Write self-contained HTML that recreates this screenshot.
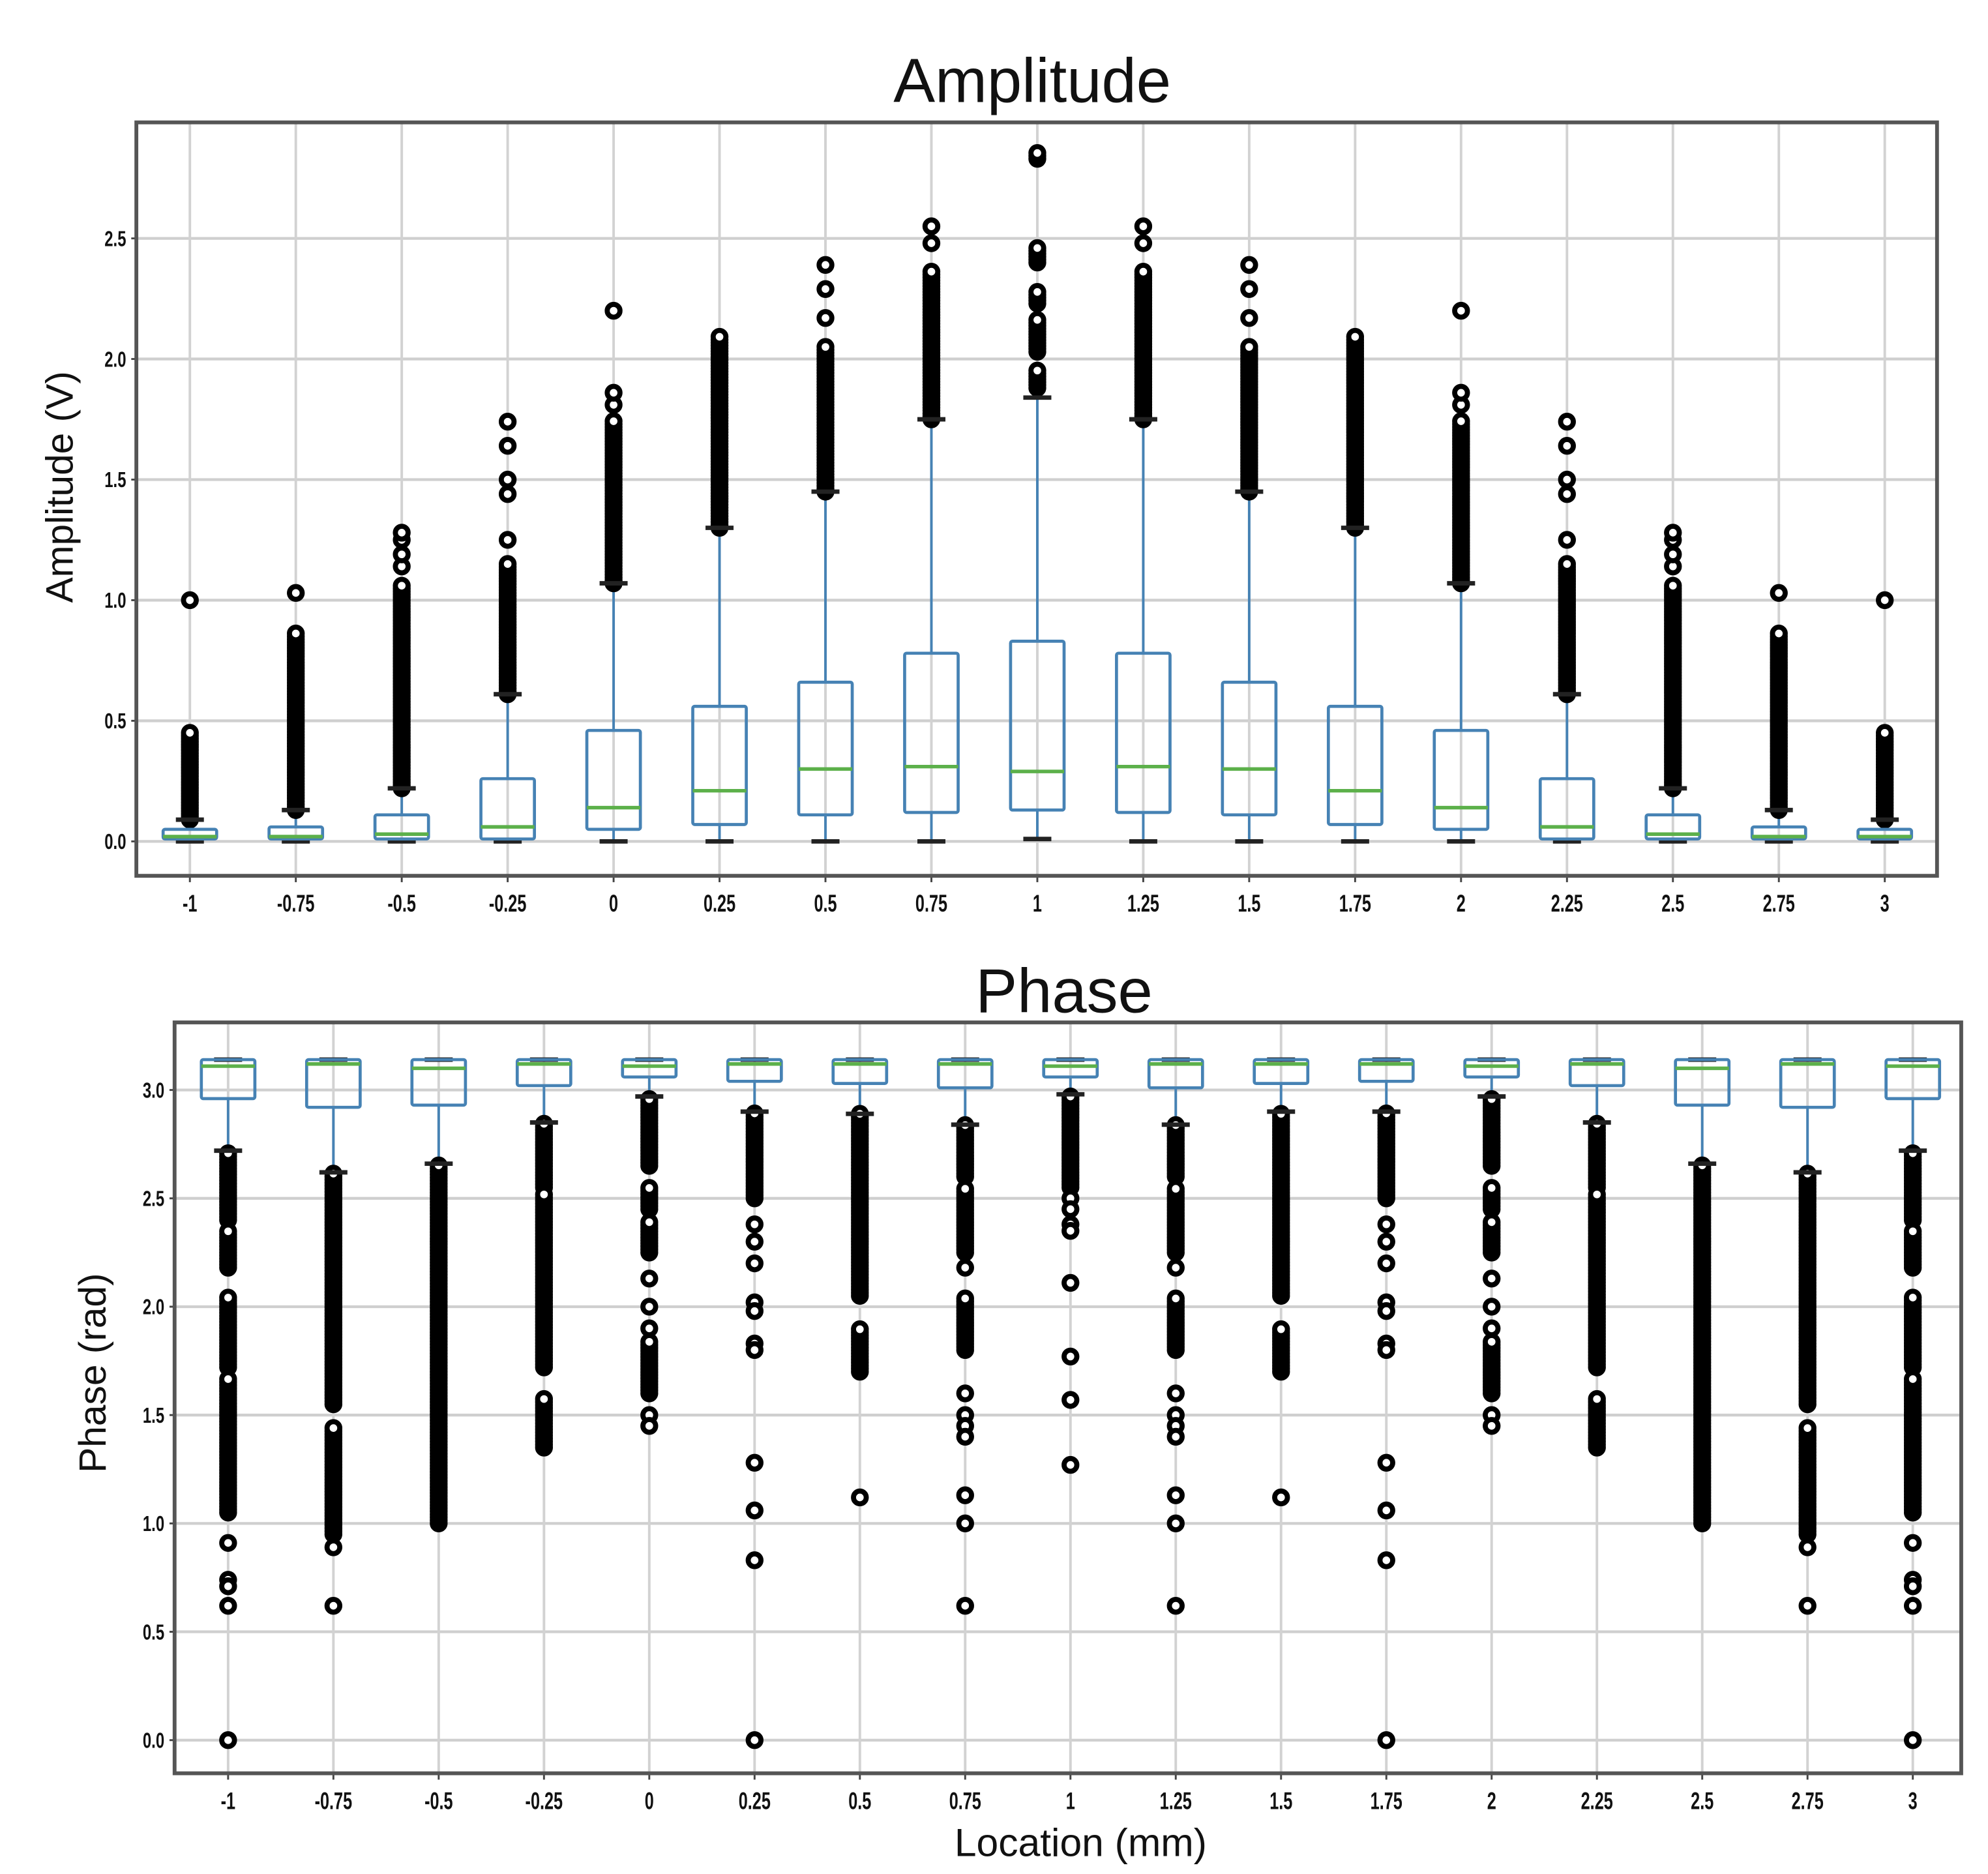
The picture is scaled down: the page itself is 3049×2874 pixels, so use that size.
<!DOCTYPE html>
<html><head><meta charset="utf-8">
<style>
html,body{margin:0;padding:0;background:#fff;}
svg{display:block;}
text{font-family:"Liberation Sans",sans-serif;fill:#111;}
</style></head>
<body>
<svg id="fig" xmlns="http://www.w3.org/2000/svg" width="3049" height="2874" viewBox="0 0 1560 1470" preserveAspectRatio="none">
<rect x="0" y="0" width="1560" height="1470" fill="#fff"/>
<g id="amp"></g>
<g id="pha"></g>
</svg>
<script>
// ---- shared categories ----
const locations = ["-1","-0.75","-0.5","-0.25","0","0.25","0.5","0.75","1","1.25","1.5","1.75","2","2.25","2.5","2.75","3"];
// ---- Amplitude data ----
const ampQ1  = [0.01,0.01,0.01,0.01,0.05,0.07,0.11,0.12,0.13,0.12,0.11,0.07,0.05,0.01,0.01,0.01,0.01];
const ampMed = [0.02,0.02,0.03,0.06,0.14,0.21,0.30,0.31,0.29,0.31,0.30,0.21,0.14,0.06,0.03,0.02,0.02];
const ampQ3  = [0.05,0.06,0.11,0.26,0.46,0.56,0.66,0.78,0.83,0.78,0.66,0.56,0.46,0.26,0.11,0.06,0.05];
const ampWLo = [0,0,0,0,0,0,0,0,0.01,0,0,0,0,0,0,0,0];
const ampWHi = [0.09,0.13,0.22,0.61,1.07,1.30,1.45,1.75,1.84,1.75,1.45,1.30,1.07,0.61,0.22,0.13,0.09];
const ampDense = [
 [[0.09,0.46]],[[0.13,0.87]],[[0.22,1.07]],[[0.61,1.15]],[[1.07,1.75]],[[1.30,2.10]],[[1.45,2.06]],[[1.75,2.37]],
 [[1.88,1.96],[2.03,2.17],[2.23,2.28],[2.40,2.47],[2.83,2.86]],
 [[1.75,2.37]],[[1.45,2.06]],[[1.30,2.10]],[[1.07,1.75]],[[0.61,1.15]],[[0.22,1.07]],[[0.13,0.87]],[[0.09,0.46]]];
const ampSingles = [[1.0],[1.03],[1.14,1.19,1.25,1.28],[1.25,1.44,1.50,1.64,1.74],[1.81,1.86,2.20],[],[2.17,2.29,2.39],[2.48,2.55],
 [],[2.48,2.55],[2.17,2.29,2.39],[],[1.81,1.86,2.20],[1.25,1.44,1.50,1.64,1.74],[1.14,1.19,1.25,1.28],[1.03],[1.0]];
const ampTicks = [0,0.5,1.0,1.5,2.0,2.5];
const ampTickLabels = ["0.0","0.5","1.0","1.5","2.0","2.5"];
// ---- Phase data ----
const phQ1  = [2.96,2.92,2.93,3.02,3.06,3.04,3.03,3.01,3.06,3.01,3.03,3.04,3.06,3.02,2.93,2.92,2.96];
const phMed = [3.11,3.12,3.10,3.12,3.11,3.12,3.12,3.12,3.11,3.12,3.12,3.12,3.11,3.12,3.10,3.12,3.11];
const phQ3  = [3.14,3.14,3.14,3.14,3.14,3.14,3.14,3.14,3.14,3.14,3.14,3.14,3.14,3.14,3.14,3.14,3.14];
const phWLo = [2.72,2.62,2.66,2.85,2.97,2.90,2.89,2.84,2.98,2.84,2.90,2.90,2.97,2.85,2.66,2.62,2.72];
const phWHi = [3.14,3.14,3.14,3.14,3.14,3.14,3.14,3.14,3.14,3.14,3.14,3.14,3.14,3.14,3.14,3.14,3.14];
const phDense = [
 [[2.40,2.72],[2.18,2.35],[1.72,2.05],[1.05,1.67]],
 [[1.55,2.62],[0.95,1.45]],
 [[1.00,2.66]],
 [[2.55,2.85],[1.72,2.52],[1.35,1.58]],
 [[2.65,2.97],[2.45,2.55],[2.25,2.40],[1.60,1.85]],
 [[2.50,2.90]],
 [[2.05,2.89],[1.70,1.90]],
 [[2.60,2.84],[2.25,2.55],[1.80,2.05]],
 [[2.55,2.98]],
 [[2.60,2.84],[2.25,2.55],[1.80,2.05]],
 [[2.05,2.90],[1.70,1.90]],
 [[2.50,2.90]],
 [[2.65,2.97],[2.45,2.55],[2.25,2.40],[1.60,1.85]],
 [[2.55,2.85],[1.72,2.52],[1.35,1.58]],
 [[1.00,2.66]],
 [[1.55,2.62],[0.95,1.45]],
 [[2.40,2.72],[2.18,2.35],[1.72,2.05],[1.05,1.67]]];
const phSingles = [
 [0.91,0.74,0.71,0.62,0.0],[0.89,0.62],[],[],[2.13,2.0,1.9,1.5,1.45],
 [2.38,2.30,2.2,2.02,1.98,1.83,1.80,1.28,1.06,0.83,0.0],[1.12],
 [2.18,1.60,1.50,1.45,1.40,1.13,1.0,0.62],[2.50,2.45,2.38,2.35,2.11,1.77,1.57,1.27],
 [2.18,1.60,1.50,1.45,1.40,1.13,1.0,0.62],[1.12],
 [2.38,2.30,2.2,2.02,1.98,1.83,1.80,1.28,1.06,0.83,0.0],[2.13,2.0,1.9,1.5,1.45],
 [],[],[0.89,0.62],[0.91,0.74,0.71,0.62,0.0]];
const phTicks = [0,0.5,1.0,1.5,2.0,2.5,3.0];
const phTickLabels = ["0.0","0.5","1.0","1.5","2.0","2.5","3.0"];

const NS="http://www.w3.org/2000/svg";
function mk(parent,tag,attrs,txt){const e=document.createElementNS(NS,tag);for(const k in attrs)e.setAttribute(k,attrs[k]);if(txt!==undefined)e.textContent=txt;parent.appendChild(e);return e;}

function drawChart(g,cfg){
  const xs=i=>cfg.x0+(cfg.x1-cfg.x0)*i/(locations.length-1);
  const ys=v=>cfg.y0-(cfg.y0-cfg.yTop)*v/cfg.vTop;
  cfg.ticks.forEach((t,i)=>{
    const l=mk(g,'line',{x1:cfg.L,x2:cfg.R,y1:ys(t),y2:ys(t),stroke:'#cfcfcf','stroke-width':2.2});
    
    
    const tk=mk(g,'line',{x1:cfg.L-4,x2:cfg.L,y1:ys(t),y2:ys(t),stroke:'#444','stroke-width':1.5});
    
    
    const tx=mk(g,'text',{x:cfg.L-8,y:ys(t)+6,'text-anchor':'end','font-size':17,'font-weight':'bold',fill:'#333',transform:`translate(${cfg.L-8},${ys(t)}) scale(0.72,1) translate(${-(cfg.L-8)},${-ys(t)})`},cfg.tickLabels[i]);
    
    
  });
  locations.forEach((c,i)=>{
    const l=mk(g,'line',{x1:xs(i),x2:xs(i),y1:cfg.T,y2:cfg.B,stroke:'#d2d2d2','stroke-width':2});
    
    
    const tk=mk(g,'line',{x1:xs(i),x2:xs(i),y1:cfg.B,y2:cfg.B+5,stroke:'#444','stroke-width':1.5});
    
    
    const tx=mk(g,'text',{x:xs(i),y:cfg.B+28,'text-anchor':'middle','font-size':19,'font-weight':'bold',fill:'#333',transform:`translate(${xs(i)},0) scale(0.68,1) translate(${-xs(i)},0)`},c);
    
    
  });
  const hw=21;
  locations.forEach((c,i)=>{
    const bg=mk(g,'g',{});
    
    
    const x=xs(i);
    mk(bg,'line',{x1:x,x2:x,y1:ys(cfg.q3[i]),y2:ys(cfg.whi[i]),stroke:'#4682b4','stroke-width':2});
    mk(bg,'line',{x1:x,x2:x,y1:ys(cfg.q1[i]),y2:ys(cfg.wlo[i]),stroke:'#4682b4','stroke-width':2});
    const pts=[];
    cfg.dense[i].forEach(r=>{for(let v=r[0];v<=r[1]+1e-9;v+=cfg.step)pts.push(v);});
    cfg.singles[i].forEach(v=>pts.push(v));
    pts.forEach(v=>{mk(bg,'circle',{cx:x,cy:ys(v),r:5,fill:'#fff',stroke:'#000','stroke-width':4});});
    mk(bg,'line',{x1:x-11,x2:x+11,y1:ys(cfg.whi[i]),y2:ys(cfg.whi[i]),stroke:'#222','stroke-width':3.5});
    mk(bg,'line',{x1:x-11,x2:x+11,y1:ys(cfg.wlo[i]),y2:ys(cfg.wlo[i]),stroke:'#222','stroke-width':3.5});
    const top=ys(cfg.q3[i]),bot=ys(cfg.q1[i]);
    mk(bg,'rect',{x:x-hw,y:top,width:2*hw,height:Math.max(bot-top,1),fill:'none',stroke:'#4682b4','stroke-width':2.4,rx:1.5});
    mk(bg,'line',{x1:x-hw,x2:x+hw,y1:ys(cfg.med[i]),y2:ys(cfg.med[i]),stroke:'#5cb04a','stroke-width':2.8});
  });
  const fr=mk(g,'rect',{x:cfg.L,y:cfg.T,width:cfg.R-cfg.L,height:cfg.B-cfg.T,fill:'none',stroke:'#555','stroke-width':3});
  
  
}

drawChart(document.getElementById('amp'),{L:107,R:1520,T:96,B:687,x0:149,x1:1479,y0:660,yTop:187,vTop:2.5,
  ticks:ampTicks,tickLabels:ampTickLabels,q1:ampQ1,med:ampMed,q3:ampQ3,wlo:ampWLo,whi:ampWHi,dense:ampDense,singles:ampSingles,step:0.012});
drawChart(document.getElementById('pha'),{L:137,R:1539,T:802,B:1391,x0:179,x1:1501,y0:1365,yTop:855,vTop:3.0,
  ticks:phTicks,tickLabels:phTickLabels,q1:phQ1,med:phMed,q3:phQ3,wlo:phWLo,whi:phWHi,dense:phDense,singles:phSingles,step:0.014});

const svg=document.getElementById('fig');
let t;
t=mk(svg,'text',{x:810,y:80,'text-anchor':'middle','font-size':49},'Amplitude');


t=mk(svg,'text',{x:835,y:794,'text-anchor':'middle','font-size':49},'Phase');


t=mk(svg,'text',{x:0,y:0,'text-anchor':'middle','font-size':30,transform:'translate(57,382) rotate(-90)'},'Amplitude (V)');


t=mk(svg,'text',{x:0,y:0,'text-anchor':'middle','font-size':30,transform:'translate(83,1077) rotate(-90)'},'Phase (rad)');


t=mk(svg,'text',{x:848,y:1456,'text-anchor':'middle','font-size':31},'Location (mm)');


</script>
</body></html>
